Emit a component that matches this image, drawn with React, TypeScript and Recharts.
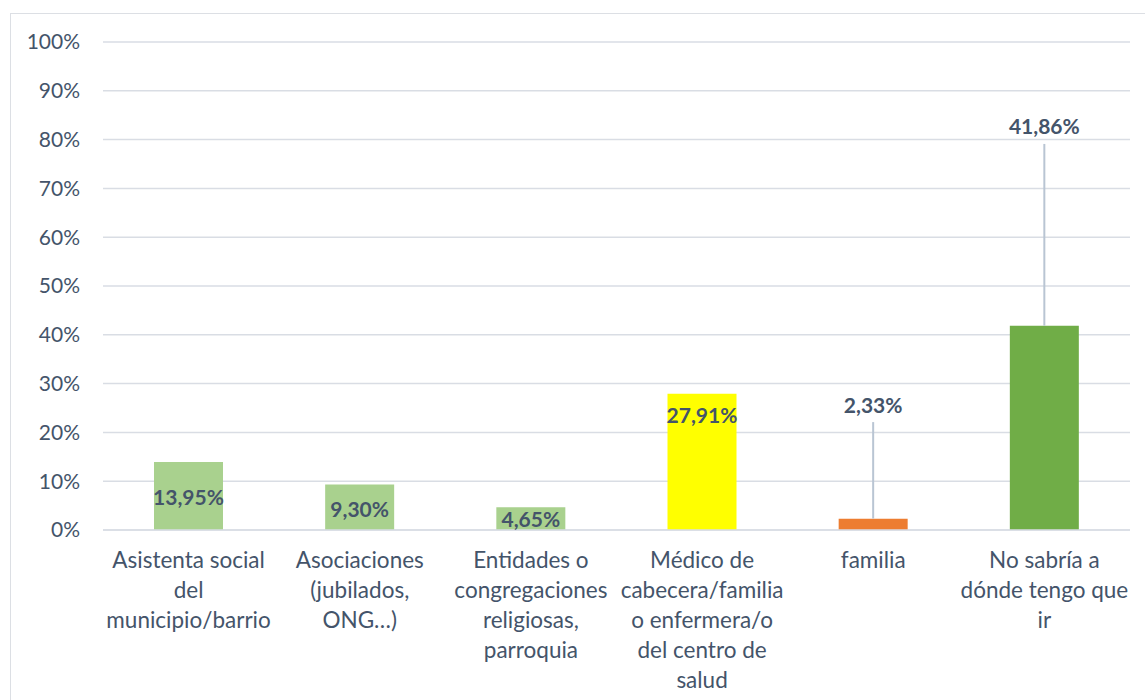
import { BarChart, Bar, Cell, XAxis, YAxis, CartesianGrid, LabelList } from "recharts";

const INK = "#44546a";
const GRIDLINE = "#d9dde4";
const LEADER = "#b9c5d3";
const FONT = "Lato, 'Open Sans', sans-serif";

const CATEGORIES = [
  "Asistenta social\ndel\nmunicipio/barrio",
  "Asociaciones\n(jubilados,\nONG…)",
  "Entidades o\ncongregaciones\nreligiosas,\nparroquia",
  "Médico de\ncabecera/familia\no enfermera/o\ndel centro de\nsalud",
  "familia",
  "No sabría a\ndónde tengo que\nir",
];
const VALUES = [13.95, 9.3, 4.65, 27.91, 2.33, 41.86];
const COLORS = ["#a9d18e", "#a9d18e", "#a9d18e", "#ffff00", "#ed7d31", "#70ad47"];
// where each data label sits, in % units of the y axis
const LABEL_AT = [6.8, 4.5, 2.3, 23.6, 25.8, 82.8];
const HAS_LEADER = [false, false, false, false, true, true];
const Y_TICKS = [0, 10, 20, 30, 40, 50, 60, 70, 80, 90, 100];

const data = CATEGORIES.map((name, i) => ({ name, value: VALUES[i] }));

function CategoryTick({ x, y, payload }: any) {
  const lines = String(payload.value).split("\n");
  return (
    <text x={x} y={y} textAnchor="middle" fill={INK} fontSize={22.5} fontFamily={FONT}>
      {lines.map((l, i) => (
        <tspan key={i} x={x} dy={i === 0 ? 30 : 30}>
          {l}
        </tspan>
      ))}
    </text>
  );
}

function ValueLabel(props: any) {
  const { x, y, width, height, index, value } = props;
  const base = y + height;
  const perUnit = height / value;
  const ly = base - LABEL_AT[index] * perUnit;
  const cx = x + width / 2;
  const text = value.toFixed(2).replace(".", ",") + "%";
  return (
    <g>
      {HAS_LEADER[index] && (
        <line x1={cx} x2={cx} y1={ly + 18} y2={y} stroke={LEADER} strokeWidth={2} />
      )}
      <text
        x={cx}
        y={ly}
        textAnchor="middle"
        dominantBaseline="central"
        fill={INK}
        fontSize={21}
        fontWeight="bold"
        fontFamily={FONT}
      >
        {text}
      </text>
    </g>
  );
}

export default function App() {
  return (
    <div style={{ position: "fixed", left: 0, top: 0, width: 1145, height: 700, background: "#fff" }}>
      <div
        style={{
          position: "absolute",
          left: 10,
          top: 13,
          width: 1145,
          height: 700,
          border: "1.5px solid #dcdfe4",
          boxSizing: "border-box",
        }}
      />
      <div style={{ position: "absolute", left: 0, top: 0 }}>
        <BarChart
          width={1145}
          height={700}
          data={data}
          margin={{ top: 42, right: 15, left: 0, bottom: 10 }}
          barCategoryGap="30%"
        >
          <CartesianGrid stroke={GRIDLINE} strokeWidth={1.5} vertical={false} />
          <XAxis
            dataKey="name"
            axisLine={{ stroke: GRIDLINE, strokeWidth: 1.5 }}
            tickLine={false}
            interval={0}
            height={160}
            tick={<CategoryTick />}
          />
          <YAxis
            domain={[0, 100]}
            ticks={Y_TICKS}
            tickFormatter={(v) => `${v}%`}
            axisLine={false}
            tickLine={false}
            tickSize={0}
            tickMargin={23}
            width={103}
            tick={{ fontSize: 21, fill: INK, fontFamily: FONT }}
          />
          <Bar dataKey="value" barSize={69} isAnimationActive={false}>
            {data.map((d, i) => (
              <Cell key={d.name} fill={COLORS[i]} />
            ))}
            <LabelList dataKey="value" content={<ValueLabel />} />
          </Bar>
        </BarChart>
      </div>
    </div>
  );
}
